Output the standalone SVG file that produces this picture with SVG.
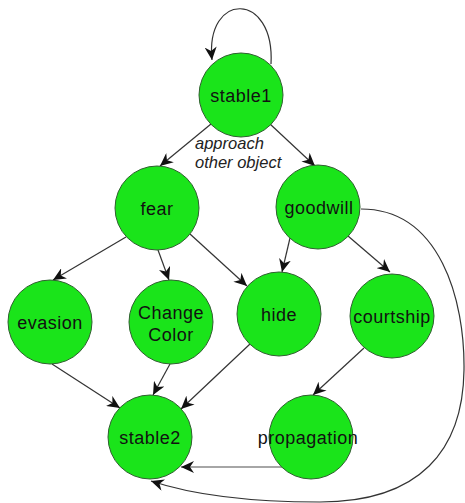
<svg xmlns="http://www.w3.org/2000/svg" width="465" height="503" viewBox="0 0 465 503">
<style>
.n circle{fill:#1ae41a;stroke:#2f5f2f;stroke-width:1}
.n text{font-family:"Liberation Sans",Arial,sans-serif;font-size:18px;letter-spacing:0.5px;fill:#111;text-anchor:middle}
.e path,.e line{fill:none;stroke:#333;stroke-width:1.2}
.lbl{font-family:"Liberation Sans",Arial,sans-serif;font-size:16.5px;font-style:italic;fill:#222}
</style>
<defs>
<marker id="a" markerUnits="userSpaceOnUse" markerWidth="14" markerHeight="12" viewBox="0 0 14 12" refX="13" refY="6" orient="auto">
<path d="M0,0 L13,6 L0,12 L4,6 z" fill="#111"/>
</marker>
</defs>
<rect width="465" height="503" fill="#fff"/>
<g id="connectors" class="e">
<path d="M271,64 C275,-9 205,-9 212,60" marker-end="url(#a)"/>
<line x1="211" y1="124" x2="160" y2="166" marker-end="url(#a)"/>
<line x1="270" y1="124" x2="315" y2="166" marker-end="url(#a)"/>
<line x1="126" y1="237" x2="53" y2="280" marker-end="url(#a)"/>
<line x1="158" y1="250" x2="169" y2="280" marker-end="url(#a)"/>
<line x1="190" y1="234" x2="247" y2="286" marker-end="url(#a)"/>
<line x1="290" y1="238" x2="282" y2="272" marker-end="url(#a)"/>
<line x1="348" y1="236" x2="390" y2="272" marker-end="url(#a)"/>
<line x1="52" y1="364" x2="120" y2="408" marker-end="url(#a)"/>
<line x1="170" y1="364" x2="153" y2="395" marker-end="url(#a)"/>
<line x1="250" y1="344" x2="181" y2="409" marker-end="url(#a)"/>
<line x1="364" y1="348" x2="313" y2="395" marker-end="url(#a)"/>
<line x1="282" y1="467" x2="181" y2="467" style="stroke:#888;stroke-width:1.5" marker-end="url(#a)"/>
<path d="M361,209 C440,209 465,300 464,370 C463,450 420,502 320,502 C240,502 190,494 151,481" marker-end="url(#a)"/>
</g>
<text class="lbl" x="195" y="149">approach</text>
<text class="lbl" x="195" y="168">other object</text>
<g id="stable1" class="n"><circle cx="241" cy="95" r="42"/><text x="241" y="102">stable1</text></g>
<g id="fear" class="n"><circle cx="157" cy="208" r="42"/><text x="157" y="215">fear</text></g>
<g id="goodwill" class="n"><circle cx="318" cy="207" r="42"/><text x="319" y="214">goodwill</text></g>
<g id="evasion" class="n"><circle cx="50" cy="322" r="42"/><text x="50" y="329">evasion</text></g>
<g id="changecolor" class="n"><circle cx="171" cy="322" r="42"/><text x="171" y="319">Change</text><text x="171" y="341">Color</text></g>
<g id="hide" class="n"><circle cx="279" cy="314" r="42"/><text x="279" y="321">hide</text></g>
<g id="courtship" class="n"><circle cx="392" cy="316" r="42"/><text x="392" y="323">courtship</text></g>
<g id="stable2" class="n"><circle cx="150" cy="437" r="42"/><text x="150" y="444">stable2</text></g>
<g id="propagation" class="n"><circle cx="311" cy="437" r="42"/><text x="308" y="444">propagation</text></g>
</svg>
